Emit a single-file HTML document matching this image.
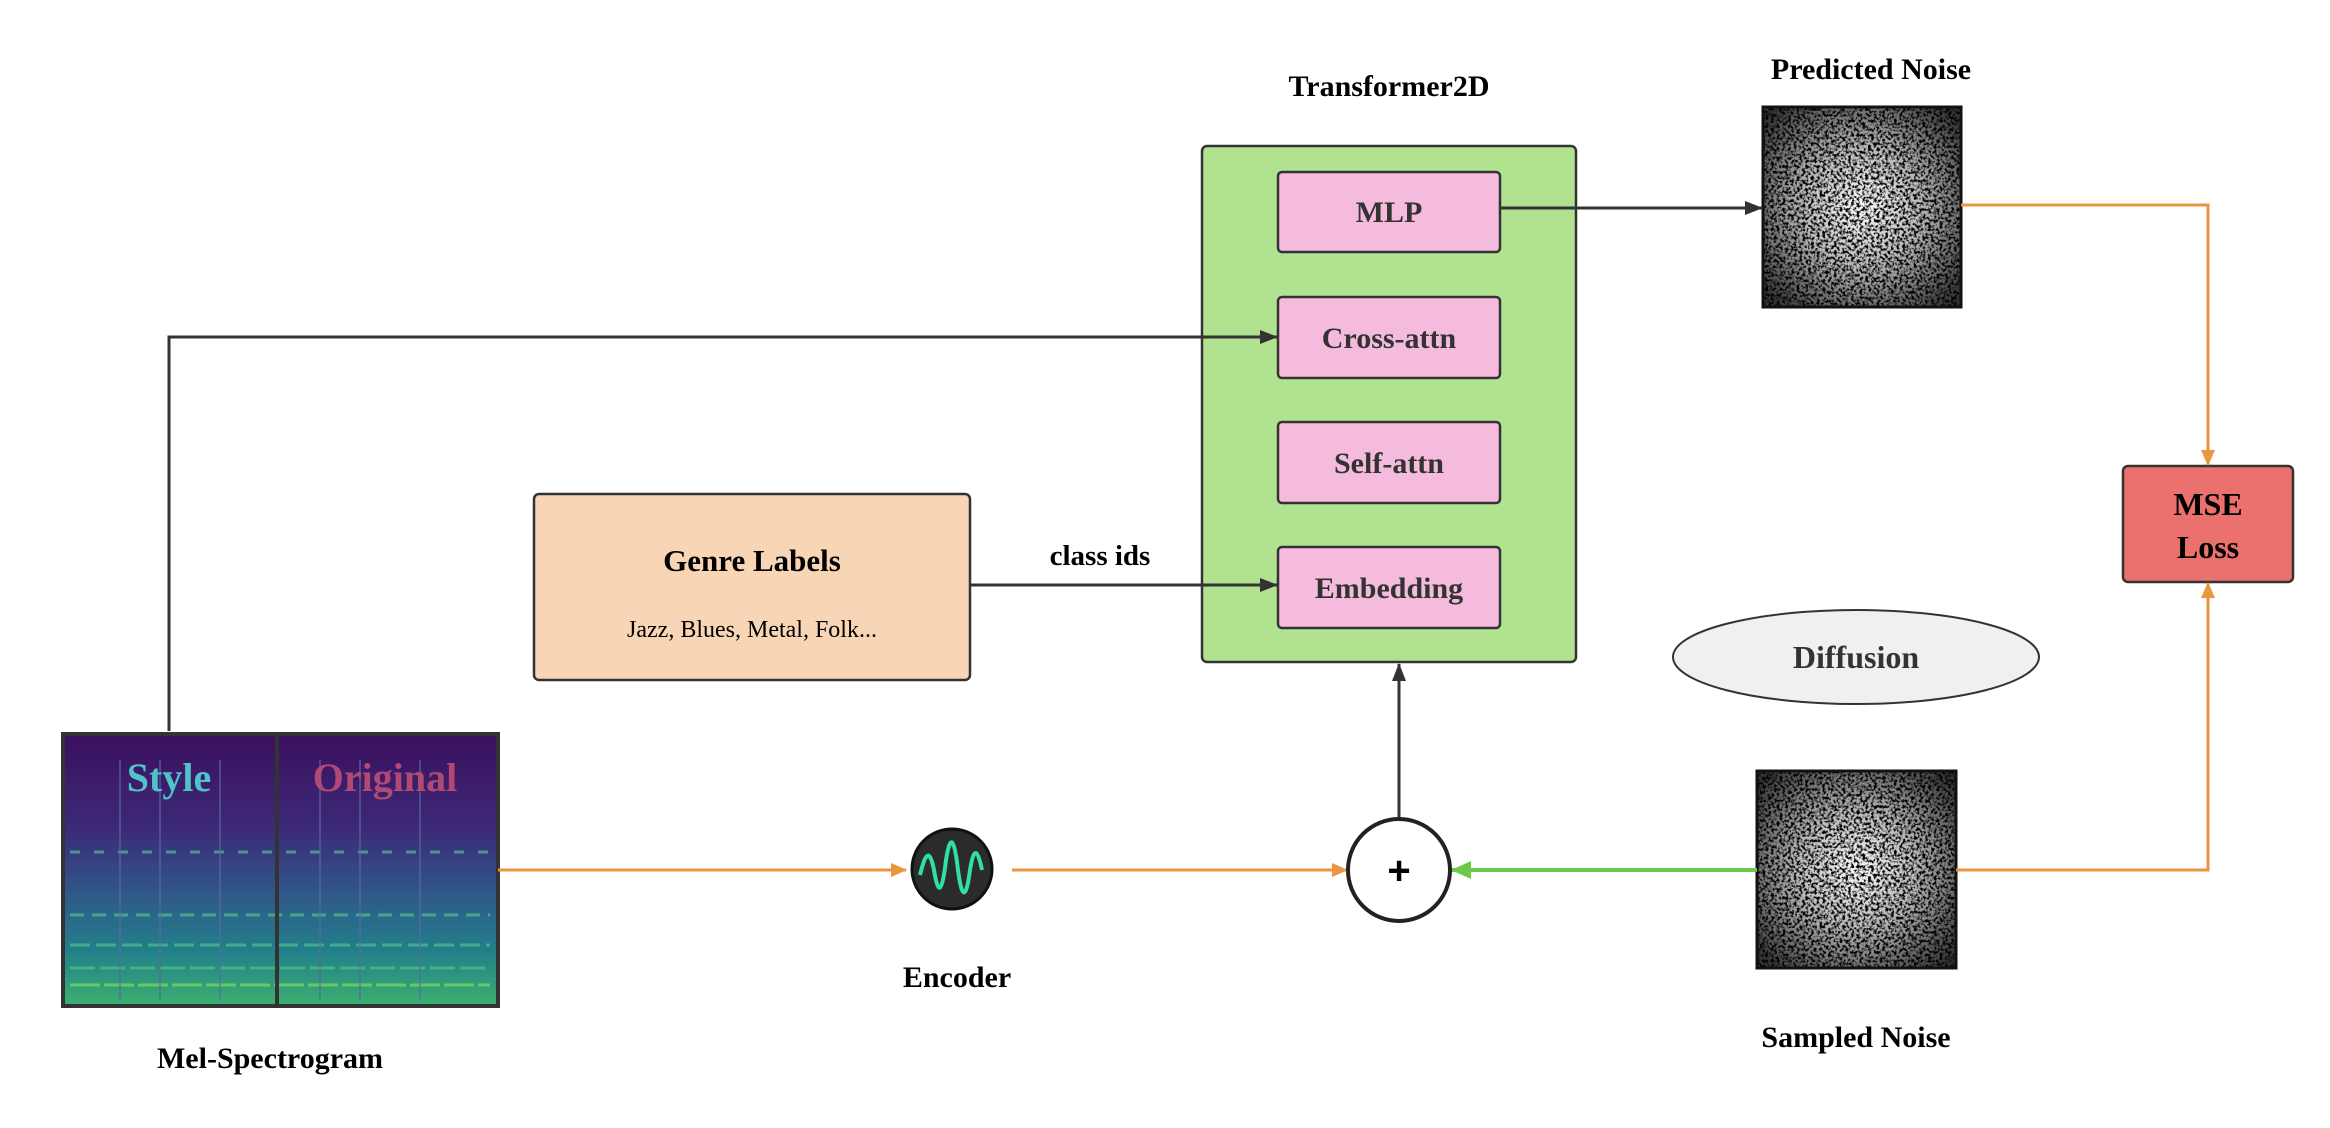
<!DOCTYPE html>
<html><head><meta charset="utf-8"><style>
html,body{margin:0;padding:0;background:#fff}
svg text{font-family:"Liberation Serif",serif;font-weight:bold}
</style></head><body>
<svg width="2330" height="1123" viewBox="0 0 2330 1123" xmlns="http://www.w3.org/2000/svg">
<defs>
<filter id="nz" x="0" y="0" width="100%" height="100%">
<feTurbulence type="fractalNoise" baseFrequency="0.35" numOctaves="2" seed="3"/>
<feColorMatrix type="matrix" values="0 0 0 0 0  0 0 0 0 0  0 0 0 0 0  0 0 0 -4 2.3"/>
</filter>
<radialGradient id="rg" cx="50%" cy="50%" r="65%">
<stop offset="0" stop-color="#fff"/><stop offset="0.45" stop-color="#bbb"/><stop offset="1" stop-color="#333"/>
</radialGradient>
<linearGradient id="sp" x1="0" y1="0" x2="0" y2="1">
<stop offset="0" stop-color="#3b0f5e"/><stop offset="0.35" stop-color="#3c2a78"/>
<stop offset="0.6" stop-color="#2f5a8a"/><stop offset="0.8" stop-color="#22808a"/><stop offset="1" stop-color="#3cb070"/>
</linearGradient>
<marker id="ao" markerWidth="16" markerHeight="16" refX="15" refY="8" orient="auto" markerUnits="userSpaceOnUse"><path d="M0,1 L16,8 L0,15 z" fill="#e8963f"/></marker>
<marker id="ag" markerWidth="20" markerHeight="20" refX="19" refY="10" orient="auto" markerUnits="userSpaceOnUse"><path d="M0,1 L20,10 L0,19 z" fill="#6cc94a"/></marker>
<marker id="ak" markerWidth="18" markerHeight="18" refX="17" refY="9" orient="auto" markerUnits="userSpaceOnUse"><path d="M0,2 L18,9 L0,16 z" fill="#333"/></marker>
</defs>

<!-- genre -->
<rect x="534" y="494" width="436" height="186" rx="5" fill="#f8d5b5" stroke="#333" stroke-width="2.5"/>
<text x="752" y="571" font-size="31" text-anchor="middle">Genre Labels</text>
<text x="752" y="637" font-size="24" text-anchor="middle" style="font-weight:normal">Jazz, Blues, Metal, Folk...</text>
<text x="1100" y="565" font-size="29" text-anchor="middle">class ids</text>

<!-- spectrogram -->
<rect x="63" y="734" width="435" height="272" fill="url(#sp)" stroke="#333" stroke-width="4"/>
<g stroke="#4fc08a" stroke-width="3" opacity="0.7">
<line x1="70" y1="852" x2="490" y2="852" stroke-dasharray="10 14"/>
<line x1="70" y1="915" x2="490" y2="915" stroke-dasharray="14 8"/>
<line x1="70" y1="945" x2="490" y2="945" stroke-dasharray="20 6"/>
<line x1="70" y1="968" x2="490" y2="968" stroke-dasharray="25 5"/>
<line x1="70" y1="985" x2="490" y2="985" stroke="#7bdc5a" stroke-dasharray="30 4"/>
</g>
<g stroke="#5a6aa0" stroke-width="2" opacity="0.6">
<line x1="120" y1="760" x2="120" y2="1000"/><line x1="160" y1="760" x2="160" y2="1000"/>
<line x1="220" y1="760" x2="220" y2="1000"/><line x1="320" y1="760" x2="320" y2="1000"/>
<line x1="360" y1="760" x2="360" y2="1000"/><line x1="420" y1="760" x2="420" y2="1000"/>
</g>
<line x1="277" y1="734" x2="277" y2="1006" stroke="#333" stroke-width="4"/>
<text x="169" y="791" font-size="40" text-anchor="middle" fill="#4ec3c8">Style</text>
<text x="385" y="791" font-size="40" text-anchor="middle" fill="#b04a74">Original</text>
<text x="270" y="1068" font-size="30" text-anchor="middle">Mel-Spectrogram</text>

<!-- encoder -->
<circle cx="952" cy="869" r="40" fill="#2b2b2b" stroke="#111" stroke-width="3"/>
<path d="M920,875 C926,850 930,850 934,870 C938,895 942,895 946,860 C950,835 954,835 958,870 C962,900 966,900 970,870 C974,845 978,850 982,870" fill="none" stroke="#2fe0a0" stroke-width="4"/>
<text x="957" y="987" font-size="30" text-anchor="middle">Encoder</text>

<!-- transformer -->
<text x="1389" y="96" font-size="30" text-anchor="middle">Transformer2D</text>
<rect x="1202" y="146" width="374" height="516" rx="5" fill="#b0e290" stroke="#333" stroke-width="2.5"/>
<g fill="#f4bbdc" stroke="#333" stroke-width="2.5">
<rect x="1278" y="172" width="222" height="80" rx="4"/>
<rect x="1278" y="297" width="222" height="81" rx="4"/>
<rect x="1278" y="422" width="222" height="81" rx="4"/>
<rect x="1278" y="547" width="222" height="81" rx="4"/>
</g>
<g font-size="30" text-anchor="middle" fill="#333">
<text x="1389" y="222">MLP</text>
<text x="1389" y="348">Cross-attn</text>
<text x="1389" y="473">Self-attn</text>
<text x="1389" y="598">Embedding</text>
</g>

<!-- noises -->
<rect x="1763" y="107" width="198" height="200" fill="url(#rg)"/>
<rect x="1763" y="107" width="198" height="200" fill="#000" filter="url(#nz)"/>
<rect x="1763" y="107" width="198" height="200" fill="none" stroke="#111" stroke-width="3"/>
<text x="1871" y="79" font-size="30" text-anchor="middle">Predicted Noise</text>
<rect x="1757" y="771" width="199" height="197" fill="url(#rg)"/>
<rect x="1757" y="771" width="199" height="197" fill="#000" filter="url(#nz)"/>
<rect x="1757" y="771" width="199" height="197" fill="none" stroke="#111" stroke-width="3"/>
<text x="1856" y="1047" font-size="30" text-anchor="middle">Sampled Noise</text>

<!-- diffusion -->
<ellipse cx="1856" cy="657" rx="183" ry="47" fill="#f0f0f0" stroke="#333" stroke-width="2"/>
<text x="1856" y="668" font-size="32" text-anchor="middle" fill="#333">Diffusion</text>

<!-- MSE -->
<rect x="2123" y="466" width="170" height="116" rx="5" fill="#ea716d" stroke="#333" stroke-width="2.5"/>
<text x="2208" y="515" font-size="32" text-anchor="middle">MSE</text>
<text x="2208" y="558" font-size="32" text-anchor="middle">Loss</text>

<!-- connectors (on top) -->
<path d="M169,731 V337 H1277" fill="none" stroke="#333" stroke-width="3" marker-end="url(#ak)"/>
<path d="M970,585 H1277" fill="none" stroke="#333" stroke-width="3" marker-end="url(#ak)"/>
<path d="M1500,208 H1762" fill="none" stroke="#333" stroke-width="3" marker-end="url(#ak)"/>
<path d="M1399,818 V664" fill="none" stroke="#333" stroke-width="3" marker-end="url(#ak)"/>
<path d="M498,870 H906" fill="none" stroke="#e8963f" stroke-width="3" marker-end="url(#ao)"/>
<path d="M1012,870 H1347" fill="none" stroke="#e8963f" stroke-width="3" marker-end="url(#ao)"/>
<path d="M1961,205 H2208 V465" fill="none" stroke="#e8963f" stroke-width="3" marker-end="url(#ao)"/>
<path d="M1956,870 H2208 V583" fill="none" stroke="#e8963f" stroke-width="3" marker-end="url(#ao)"/>
<path d="M1757,870 H1452" fill="none" stroke="#6cc94a" stroke-width="4" marker-end="url(#ag)"/>

<!-- plus -->
<circle cx="1399" cy="870" r="51" fill="#fff" stroke="#222" stroke-width="4"/>
<text x="1399" y="884" font-size="40" text-anchor="middle" style="font-family:'Liberation Sans',sans-serif">+</text>
</svg>
</body></html>
